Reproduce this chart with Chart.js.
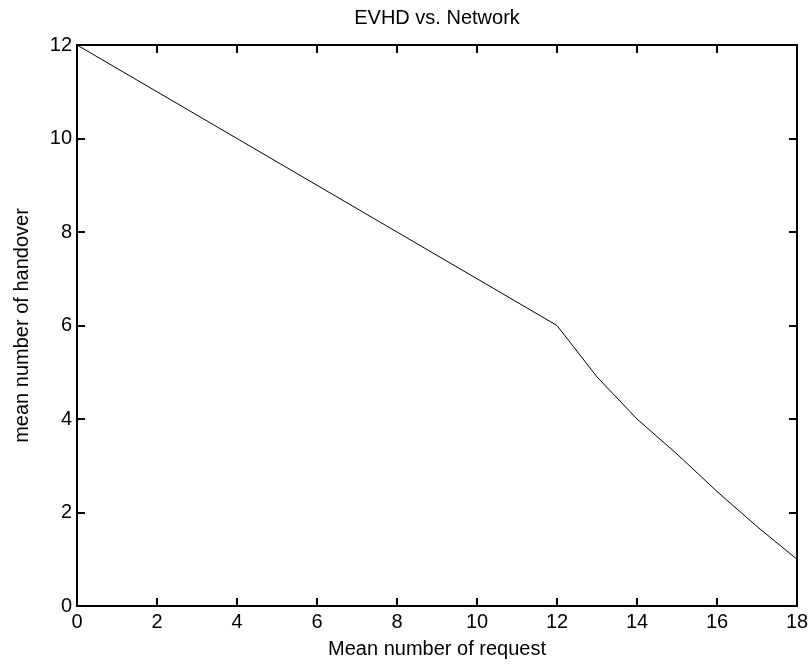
<!DOCTYPE html>
<html>
<head>
<meta charset="utf-8">
<script src="https://cdn.jsdelivr.net/npm/chart.js@4"></script>
<style>
  html, body { margin: 0; padding: 0; background: #fff; }
  #wrap { width: 809px; height: 665px; }
</style>
</head>
<body>
<div id="wrap"><canvas id="evhdChart" width="809" height="665"></canvas></div>
<script>
// dados
const requestValues = [0, 1, 2, 3, 4, 5, 6, 7, 8, 9, 10, 11, 12, 13, 14, 15, 16, 17, 18];
const handoverValues = [12, 11.5, 11, 10.5, 10, 9.5, 9, 8.5, 8, 7.5, 7, 6.5, 6, 4.9, 4, 3.25, 2.45, 1.7, 1];
const xTicks = [0, 2, 4, 6, 8, 10, 12, 14, 16, 18];
const yTicks = [0, 2, 4, 6, 8, 10, 12];

const FONT = { family: '"Liberation Sans", Arial, sans-serif', size: 20 };

// caixa + marcas para dentro (estilo MATLAB)
const boxPlugin = {
    id: 'matlabBox',
    afterDraw(chart) {
        const { ctx, chartArea: a, scales } = chart;
        const len = 8;
        ctx.save();
        ctx.strokeStyle = '#000';
        ctx.lineWidth = 2;
        ctx.beginPath();
        xTicks.forEach(v => {
            const px = Math.round(scales.x.getPixelForValue(v));
            ctx.moveTo(px, a.bottom); ctx.lineTo(px, a.bottom - len);
            ctx.moveTo(px, a.top); ctx.lineTo(px, a.top + len);
        });
        yTicks.forEach(v => {
            const py = Math.round(scales.y.getPixelForValue(v));
            ctx.moveTo(a.left, py); ctx.lineTo(a.left + len, py);
            ctx.moveTo(a.right, py); ctx.lineTo(a.right - len, py);
        });
        ctx.stroke();
        ctx.strokeRect(a.left, a.top, a.right - a.left, a.bottom - a.top);
        ctx.restore();
    }
};

new Chart(document.getElementById('evhdChart'), {
    type: 'line',
    data: {
        datasets: [{
            data: requestValues.map((x, i) => ({ x: x, y: handoverValues[i] })),
            borderColor: '#000',
            borderWidth: 1,
            pointRadius: 0,
            tension: 0,
            fill: false
        }]
    },
    options: {
        responsive: false,
        animation: false,
        layout: { padding: { left: 0, right: 12, top: 0, bottom: 0 } },
        plugins: {
            legend: { display: false },
            tooltip: { enabled: false },
            title: {
                display: true,
                text: 'EVHD vs. Network',
                color: '#000',
                font: { ...FONT, weight: 'normal' },
                fullSize: false,
                padding: { top: 6, bottom: 15 }
            }
        },
        scales: {
            x: {
                type: 'linear',
                min: 0,
                max: 18,
                afterFit: s => {
                    s.height = 59;
                    s.paddingLeft = 0;
                    s.paddingRight = 0;
                },
                afterBuildTicks: s => { s.ticks = xTicks.map(v => ({ value: v })); },
                grid: { display: false, drawTicks: false },
                border: { display: false },
                ticks: { color: '#000', font: FONT, padding: 4, maxRotation: 0 },
                title: {
                    display: true,
                    text: 'Mean number of request',
                    color: '#000',
                    font: FONT,
                    padding: { top: 0, bottom: 4 }
                }
            },
            y: {
                min: 0,
                max: 12,
                afterFit: s => {
                    s.width = 77;
                    s.paddingTop = 0;
                    s.paddingBottom = 0;
                },
                afterBuildTicks: s => { s.ticks = yTicks.map(v => ({ value: v })); },
                grid: { display: false, drawTicks: false },
                border: { display: false },
                ticks: { color: '#000', font: FONT, padding: 5 },
                title: {
                    display: true,
                    text: 'mean number of handover',
                    color: '#000',
                    font: FONT,
                    padding: { top: 10, bottom: 0 }
                }
            }
        }
    },
    plugins: [boxPlugin]
});
</script>
</body>
</html>
